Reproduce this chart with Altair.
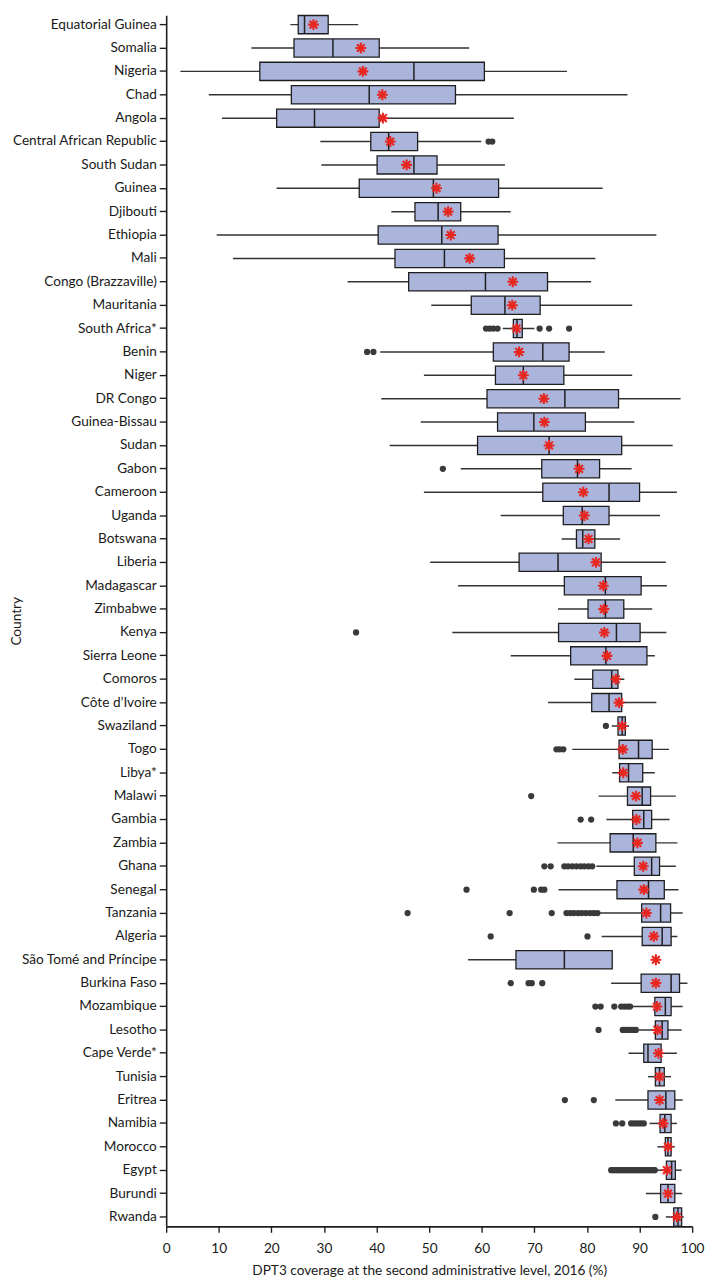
import altair as alt
import pandas as pd

countries = [
    "Equatorial Guinea", "Somalia", "Nigeria", "Chad", "Angola",
    "Central African Republic", "South Sudan", "Guinea", "Djibouti", "Ethiopia",
    "Mali", "Congo (Brazzaville)", "Mauritania", "South Africa*", "Benin",
    "Niger", "DR Congo", "Guinea-Bissau", "Sudan", "Gabon",
    "Cameroon", "Uganda", "Botswana", "Liberia", "Madagascar",
    "Zimbabwe", "Kenya", "Sierra Leone", "Comoros", "Côte d’Ivoire",
    "Swaziland", "Togo", "Libya*", "Malawi", "Gambia",
    "Zambia", "Ghana", "Senegal", "Tanzania", "Algeria",
    "São Tomé and Príncipe", "Burkina Faso", "Mozambique", "Lesotho", "Cape Verde*",
    "Tunisia", "Eritrea", "Namibia", "Morocco", "Egypt",
    "Burundi", "Rwanda",
]

whisker_lo = [23.6, 16.2, 2.7, 8.1, 10.6, 29.3, 29.5, 21.0, 42.8, 9.6,
              12.7, 34.5, 50.4, 64.0, 40.7, 49.0, 40.9, 48.4, 42.5, 56.0,
              49.0, 63.6, 75.2, 50.2, 55.5, 74.5, 54.4, 65.5, 77.6, 72.6,
              84.7, 77.2, 84.8, 82.2, 83.7, 74.4, 81.8, 74.6, 82.5, 82.8,
              57.4, 84.6, 88.6, 89.9, 87.9, 91.6, 85.4, 91.9, 93.4, 93.0,
              91.2, 95.0]
q1 = [25.1, 24.3, 17.8, 23.8, 21.0, 38.9, 40.1, 36.7, 47.3, 40.3,
      43.5, 46.1, 58.0, 66.0, 62.2, 62.6, 61.0, 63.0, 59.2, 71.4,
      71.6, 75.5, 78.0, 67.1, 75.7, 80.2, 74.6, 76.9, 81.1, 80.9,
      85.9, 86.1, 86.2, 87.7, 88.7, 84.4, 89.0, 85.7, 90.4, 90.5,
      66.5, 90.3, 92.9, 93.0, 90.8, 93.0, 91.6, 93.9, 94.9, 95.1,
      94.0, 96.5]
median = [26.3, 31.7, 47.1, 38.6, 28.2, 42.3, 47.1, 50.8, 51.7, 52.4,
          52.9, 60.7, 64.4, 66.7, 71.6, 67.9, 75.8, 69.9, 72.8, 78.2,
          84.2, 79.1, 79.2, 74.5, 83.5, 83.5, 85.6, 83.6, 84.7, 84.2,
          86.7, 89.8, 87.9, 90.5, 90.8, 88.8, 92.3, 91.7, 94.0, 94.3,
          75.7, 96.0, 94.9, 94.3, 91.6, 93.8, 95.0, 94.8, 95.4, 96.1,
          95.4, 97.3]
q3 = [30.8, 40.5, 60.5, 55.0, 40.5, 47.8, 51.5, 63.2, 56.0, 63.1,
      64.3, 72.5, 71.1, 67.7, 76.6, 75.6, 86.0, 79.7, 86.6, 82.4,
      90.0, 84.2, 81.5, 82.7, 90.3, 87.0, 90.1, 91.4, 85.9, 86.6,
      87.3, 92.4, 90.6, 92.1, 92.3, 93.1, 93.8, 94.7, 95.9, 96.0,
      84.8, 97.6, 96.0, 95.4, 94.1, 94.7, 96.7, 96.0, 96.0, 96.8,
      96.7, 98.0]
whisker_hi = [36.5, 57.6, 76.2, 87.7, 66.1, 59.9, 64.4, 83.0, 65.5, 93.2,
              81.6, 80.8, 88.6, 70.0, 83.4, 88.6, 97.8, 89.0, 96.3, 88.5,
              97.1, 93.9, 86.3, 95.0, 95.2, 92.4, 95.1, 92.9, 87.1, 93.2,
              88.0, 95.6, 92.9, 96.9, 95.7, 97.2, 96.9, 97.4, 98.2, 97.2,
              84.8, 99.1, 98.2, 98.0, 97.1, 96.0, 98.2, 97.1, 96.7, 98.0,
              98.1, 98.4]
national_mean = [28.0, 37.0, 37.4, 41.1, 41.2, 42.6, 45.7, 51.4, 53.6, 54.1,
                 57.7, 65.9, 65.8, 66.6, 67.1, 67.9, 71.8, 71.9, 72.8, 78.5,
                 79.3, 79.5, 80.3, 81.7, 83.1, 83.2, 83.3, 83.8, 85.5, 86.1,
                 86.7, 86.8, 86.9, 89.3, 89.4, 89.6, 90.7, 90.8, 91.3, 92.7,
                 93.1, 93.1, 93.3, 93.4, 93.6, 93.8, 93.8, 94.5, 95.4, 95.2,
                 95.4, 97.1]

outliers = {
    "Central African Republic": [61.3, 62.0],
    "South Africa*": [60.8, 61.5, 62.2, 63.0, 71.0, 72.8, 76.6],
    "Benin": [38.2, 39.4],
    "Gabon": [52.6],
    "Kenya": [36.1],
    "Swaziland": [83.6],
    "Togo": [74.2, 74.8, 75.5],
    "Malawi": [69.4],
    "Gambia": [78.8, 80.8],
    "Ghana": [71.9, 73.1, 75.7, 76.4, 77.2, 78.0, 78.8, 79.5, 80.3, 81.0],
    "Senegal": [57.1, 69.9, 71.3, 71.9],
    "Tanzania": [45.9, 65.3, 73.3, 76.1, 76.8, 77.5, 78.3, 79.0, 79.8, 80.6, 81.3, 82.0],
    "Algeria": [61.7, 80.1],
    "Burkina Faso": [65.5, 68.9, 69.5, 71.5],
    "Mozambique": [81.6, 82.6, 85.2, 86.5, 87.1, 87.7, 88.2],
    "Lesotho": [82.2, 86.8, 87.3, 87.8, 88.3, 88.8, 89.3],
    "Eritrea": [75.8, 81.3],
    "Namibia": [85.5, 86.7, 88.4, 89.0, 89.6, 90.2, 90.8],
    "Egypt": [84.6, 85.0, 85.4, 85.8, 86.2, 86.6, 87.0, 87.4, 87.8, 88.2, 88.6,
              89.0, 89.4, 89.8, 90.2, 90.6, 91.0, 91.4, 91.8, 92.2, 92.6, 92.9],
    "Rwanda": [93.0],
}

stats = pd.DataFrame({
    "country": countries, "lo": whisker_lo, "q1": q1, "med": median,
    "q3": q3, "hi": whisker_hi, "mean": national_mean,
})
outl = pd.DataFrame(
    [(c, v) for c, vals in outliers.items() for v in vals],
    columns=["country", "value"],
)

FONT = "Lato"
INK = "#1e1e1e"

xscale = alt.Scale(domain=[0, 100], nice=False, zero=False)
yscale = alt.Scale(domain=countries, paddingInner=0.22, paddingOuter=0.012)

x_axis = alt.Axis(
    values=list(range(0, 101, 10)),
    title="DPT3 coverage at the second administrative level, 2016 (%)",
    grid=False, tickSize=6, labelPadding=9, titlePadding=9, labelFlush=False,
)
y_axis = alt.Axis(
    title="Country", grid=False, tickSize=7, labelPadding=3,
    titleX=-151, titleBaseline="middle", titleAngle=-90,
)

y_enc = alt.Y("country:N", scale=yscale, axis=y_axis)

base = alt.Chart(stats)

whiskers = base.mark_rule(color="#333333", strokeWidth=1.5).encode(
    x=alt.X("lo:Q", scale=xscale, axis=x_axis), x2="hi:Q", y=y_enc
)
boxes = base.mark_bar(fill="#abb5dc", stroke=INK, strokeWidth=1.3).encode(
    x=alt.X("q1:Q", scale=xscale, axis=x_axis), x2="q3:Q", y=y_enc
)
medians = base.mark_tick(color=INK, thickness=1.5, size=18, opacity=1).encode(
    x=alt.X("med:Q", scale=xscale, axis=x_axis), y=y_enc
)
dots = alt.Chart(outl).mark_circle(size=40, color="#3a3a3a", opacity=1).encode(
    x=alt.X("value:Q", scale=xscale, axis=x_axis), y=y_enc
)
ASTER = ("M-1,0L1,0M0,-1L0,1M-0.7071,-0.7071L0.7071,0.7071"
         "M-0.7071,0.7071L0.7071,-0.7071")
means = base.mark_point(
    shape=ASTER, size=120, color="#e6261f", strokeWidth=2.1, filled=False, opacity=1
).encode(x=alt.X("mean:Q", scale=xscale, axis=x_axis), y=y_enc)

chart = (
    alt.layer(whiskers, boxes, medians, dots, means)
    .properties(
        width=532, height=1225,
        autosize=alt.AutoSizeParams(type="none"),
        padding={"left": 160, "top": 0, "right": 14, "bottom": 50},
    )
    .configure_view(stroke=None)
    .configure_axis(
        labelFont=FONT, titleFont=FONT, labelFontSize=13.8, titleFontSize=13.8,
        labelColor="#1a1a1a", titleColor="#1a1a1a", titleFontWeight="normal",
        domainColor=INK, tickColor=INK, domainWidth=1.6, tickWidth=1.4,
    )
)

chart.save("out.html", embed_options={"renderer": "svg", "actions": False})
